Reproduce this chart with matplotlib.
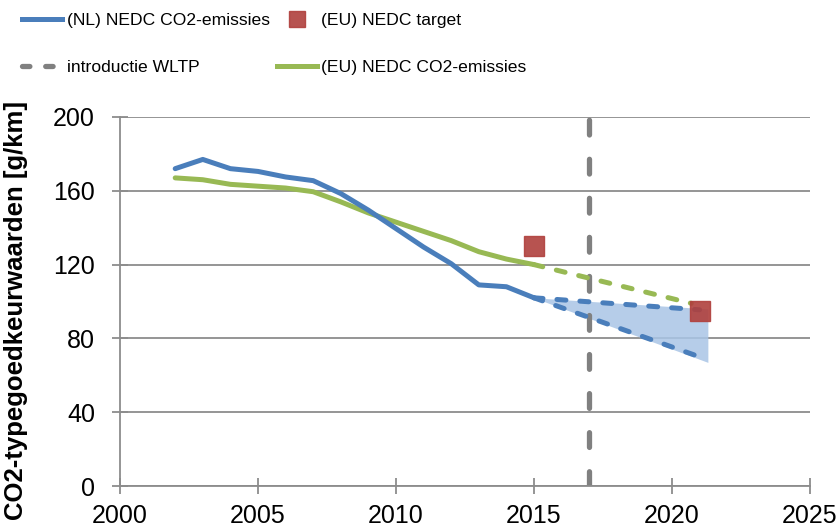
import matplotlib
matplotlib.use("Agg")
import matplotlib.pyplot as plt
from matplotlib import font_manager
from matplotlib.lines import Line2D

# data
years = [2002, 2003, 2004, 2005, 2006, 2007, 2008, 2009, 2010, 2011, 2012, 2013, 2014, 2015]
nl_nedc = [172, 177, 172, 170.5, 167.5, 165.5, 158.5, 149.5, 139.5, 129.5, 120.5, 109, 108, 102]
eu_nedc = [167, 166, 163.5, 162.5, 161.5, 159.5, 154, 148, 143, 138, 133, 127, 123, 120]

eu_proj_years = [2015, 2020.7]
eu_proj = [120, 99]
nl_proj_years = [2015, 2021]
nl_proj_high = [102, 95.5]
nl_proj_low = [102, 70]
band_years = [2015, 2021.3]
band_high = [102, 96]
band_low = [102, 67]

target_years = [2015, 2021]
target_values = [130, 95]
wltp_year = 2017

blue = '#4a7ebb'
green = '#98b954'
red = '#b0403d'
grey = '#808080'

names = {f.name for f in font_manager.fontManager.ttflist}
font = 'Liberation Sans' if 'Liberation Sans' in names else 'DejaVu Sans'
plt.rcParams['font.family'] = [font, 'DejaVu Sans']

fig = plt.figure(figsize=(8.4, 5.29), dpi=100)
ax = fig.add_axes([120 / 840, 43 / 529, 690 / 840, 369 / 529])

ax.fill_between(band_years, band_low, band_high, color='#a9c5e6', alpha=0.85, lw=0, zorder=1)

ax.plot(years, nl_nedc, color=blue, lw=3.6, solid_capstyle='round', zorder=4)
ax.plot(years, eu_nedc, color=green, lw=3.6, solid_capstyle='round', zorder=3)

for yy in (nl_proj_high, nl_proj_low):
    ax.plot(nl_proj_years, yy, color=blue, lw=3.6, dashes=(1.8, 2.8), dash_capstyle='round', zorder=4)
ax.plot(eu_proj_years, eu_proj, color=green, lw=3.6, dashes=(1.8, 2.8), dash_capstyle='round', zorder=3)

ax.plot([wltp_year, wltp_year], [0, 200], color=grey, lw=3.8, dashes=(2.8, 4.6),
        dash_capstyle='round', zorder=2)

ax.plot(target_years, target_values, 's', color=red, ms=14, alpha=0.9, zorder=5, ls='none')

ax.set_xlim(2000, 2025)
ax.set_ylim(0, 200)
ax.set_xticks([2000, 2005, 2010, 2015, 2020, 2025])
ax.set_yticks([0, 40, 80, 120, 160, 200])
ax.yaxis.grid(True, color='#8c8c8c', lw=1.3)
ax.set_axisbelow(True)
for s in ('top', 'right'):
    ax.spines[s].set_visible(False)
for s in ('left', 'bottom'):
    ax.spines[s].set_color('#8c8c8c')
    ax.spines[s].set_linewidth(1.3)
ax.tick_params(axis='both', direction='inout', length=12, width=1.3, color='#8c8c8c', labelsize=18)
ax.tick_params(axis='y', pad=12)
ax.tick_params(axis='x', pad=7)

ax.set_ylabel('CO2-typegoedkeurwaarden [g/km]', fontsize=18.5, fontweight='bold')
ax.yaxis.set_label_coords(-0.133, 0.477)

# legend: two rows above the plot
handles = [
    Line2D([], [], color=blue, lw=3.6),
    Line2D([], [], color=grey, lw=3.8, dashes=(1.4, 3.0), dash_capstyle='round'),
    Line2D([], [], color=red, marker='s', ms=11, ls='none', alpha=0.9),
    Line2D([], [], color=green, lw=3.6),
]
labels = ['(NL) NEDC CO2-emissies', 'introductie WLTP', '(EU) NEDC target', '(EU) NEDC CO2-emissies']
fig.legend(handles, labels, loc='upper left', bbox_to_anchor=(0.022, 0.982), ncol=2, frameon=False,
           prop={'size': 12.6}, handlelength=2.3, handletextpad=0.25, columnspacing=0.4,
           labelspacing=1.8, borderpad=0.2, borderaxespad=0)

fig.savefig('out.png', dpi=100)
